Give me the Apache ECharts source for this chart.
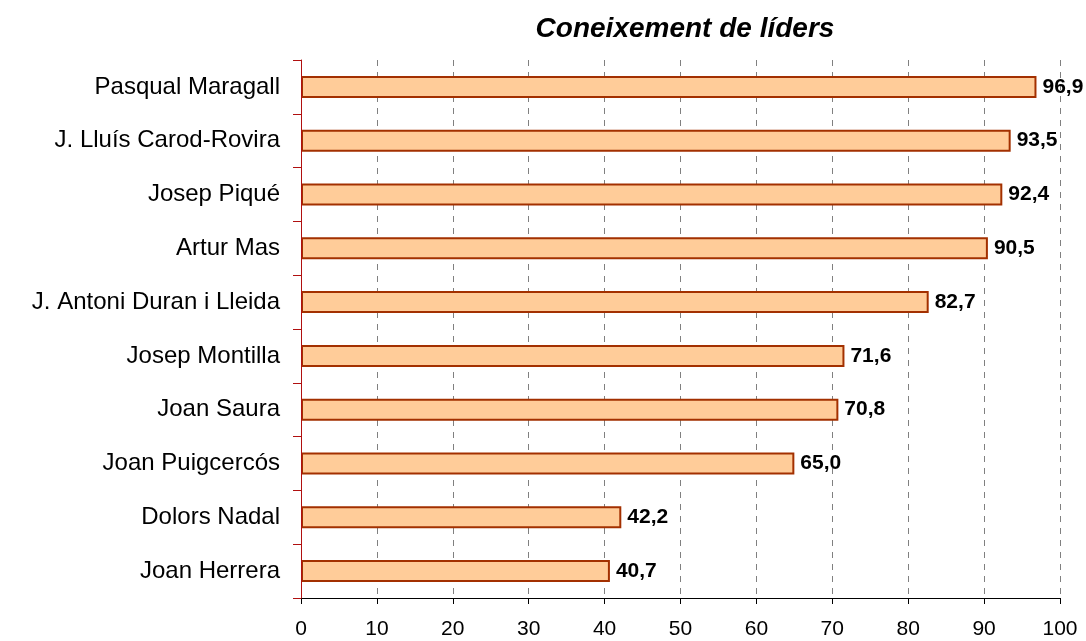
<!DOCTYPE html>
<html>
<head>
<meta charset="utf-8">
<script src="https://cdn.jsdelivr.net/npm/echarts@6/dist/echarts.min.js"></script>
<style>
  html, body { margin: 0; padding: 0; background: #ffffff; }
  #chart { width: 1086px; height: 641px; }
</style>
</head>
<body>
<div id="chart"></div>
<script>
// Name recognition of political leaders (%)
const leaders = [
  'Pasqual Maragall',
  'J. Lluís Carod-Rovira',
  'Josep Piqué',
  'Artur Mas',
  'J. Antoni Duran i Lleida',
  'Josep Montilla',
  'Joan Saura',
  'Joan Puigcercós',
  'Dolors Nadal',
  'Joan Herrera'
];
const knowledge = [96.9, 93.5, 92.4, 90.5, 82.7, 71.6, 70.8, 65.0, 42.2, 40.7];
const titleText = 'Coneixement de líders';

const FONT = 'Liberation Sans, Arial, sans-serif';

const chart = echarts.init(document.getElementById('chart'));
chart.setOption({
  animation: false,
  backgroundColor: '#ffffff',
  title: {
    text: titleText,
    left: 680,
    top: 10,
    textAlign: 'center',
    textStyle: {
      fontFamily: FONT,
      fontSize: 28,
      fontWeight: 'bold',
      fontStyle: 'italic',
      color: '#000000'
    }
  },
  grid: { left: 301, right: 26, top: 60, bottom: 43, containLabel: false },
  xAxis: {
    type: 'value',
    min: 0,
    max: 100,
    interval: 10,
    axisLine: { show: true, lineStyle: { color: '#000000', width: 1 } },
    axisTick: { show: true, length: 6, lineStyle: { color: '#000000' } },
    axisLabel: {
      fontFamily: FONT,
      fontSize: 21,
      color: '#000000',
      margin: 21
    },
    splitLine: {
      show: true,
      showMinLine: false,
      lineStyle: { color: '#808080', type: [6, 6], width: 1 }
    }
  },
  yAxis: {
    type: 'category',
    data: leaders,
    inverse: true,
    z: 5,
    axisLine: { show: true, lineStyle: { color: '#b01010', width: 1 } },
    axisTick: { show: true, length: 8, lineStyle: { color: '#b01010' } },
    axisLabel: {
      fontFamily: FONT,
      fontSize: 24,
      color: '#000000',
      margin: 21
    },
    splitLine: { show: false }
  },
  series: [{
    type: 'bar',
    data: knowledge,
    barWidth: 22,
    itemStyle: {
      color: '#ffcc99',
      borderColor: '#a33000',
      borderWidth: 2
    },
    label: {
      show: true,
      position: 'right',
      distance: 6,
      formatter: p => p.value.toFixed(1).replace('.', ','),
      fontFamily: FONT,
      fontSize: 21,
      fontWeight: 'bold',
      color: '#000000'
    }
  }]
});
</script>
</body>
</html>
